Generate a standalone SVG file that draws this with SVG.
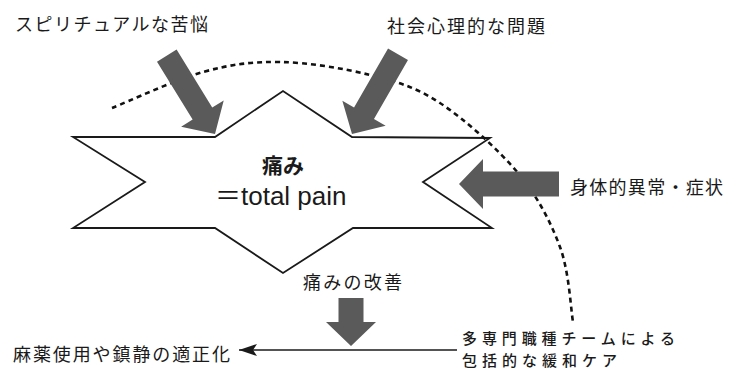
<svg xmlns="http://www.w3.org/2000/svg" width="729" height="371" viewBox="0 0 729 371">
<style>
.lbl{font-family:"Noto Sans CJK JP","Noto Sans CJK SC",sans-serif;font-size:18px;fill:#1a1a1a;}
.sm{font-size:15px;font-weight:500;}
.star{fill:#fff;stroke:#1a1a1a;stroke-width:1.8;stroke-linejoin:miter;}
.arc{fill:none;stroke:#111;stroke-width:2.6;stroke-dasharray:5 4;}
.blk{fill:#5a5a5a;}
.line{stroke:#1a1a1a;stroke-width:1.6;fill:none;}
</style>
<defs>
<marker id="ah" viewBox="0 0 18 12" refX="18" refY="6" markerWidth="18" markerHeight="12" markerUnits="userSpaceOnUse" orient="auto">
<path d="M18,6 L0,0 L4,6 L0,12 Z" fill="#1a1a1a"/>
</marker>
</defs>
<rect width="729" height="371" fill="#fff"/>
<g id="pain">
<polygon class="star" points="73,137 215,137 283,91 352,137 490,138 423,182 492,228 353,228 283,273 215,228 73,228 145,182"/>
<text class="lbl" x="283" y="173" text-anchor="middle" style="font-size:21px;font-weight:bold">痛み</text>
<text x="215" y="205" style="font-family:'Liberation Sans','Noto Sans CJK JP',sans-serif;font-size:26px;fill:#1a1a1a">＝total pain</text>
</g>
<g id="connectors">
<path class="arc" d="M112,108 C127.2,102 175,79.7 203,72 C231,64.3 252.2,61.5 280,62 C307.8,62.5 343.3,68.2 370,75 C396.7,81.8 415.3,86.7 440,103 C464.7,119.3 498,149 518,173 C538,197 550.8,222.2 560,247 C569.2,271.8 570.8,309.5 573,322"/>
<g class="blk">
<polygon transform="translate(215,134) rotate(58.4)" points="0,0 -24,-25 -24,-11.5 -92,-11.5 -92,11.5 -24,11.5 -24,25"/>
<polygon transform="translate(352,134) rotate(120)" points="0,0 -24,-25 -24,-11.5 -92,-11.5 -92,11.5 -24,11.5 -24,25"/>
<polygon transform="translate(459,184) rotate(180)" points="0,0 -24,-25 -24,-12.5 -100,-12.5 -100,12.5 -24,12.5 -24,25"/>
<polygon transform="translate(351,346) rotate(90)" points="0,0 -24,-25 -24,-12.5 -48,-12.5 -48,12.5 -24,12.5 -24,25"/>
</g>
<line class="line" x1="457" y1="350" x2="239" y2="350" marker-end="url(#ah)"/>
</g>
<g id="spiritual"><text class="lbl" x="15" y="31" textLength="193" lengthAdjust="spacing">スピリチュアルな苦悩</text></g>
<g id="social"><text class="lbl" x="387" y="33" textLength="158" lengthAdjust="spacing">社会心理的な問題</text></g>
<g id="physical"><text class="lbl" x="570" y="194" textLength="153" lengthAdjust="spacing">身体的異常・症状</text></g>
<g id="improve"><text class="lbl" x="303" y="289" textLength="99" lengthAdjust="spacing">痛みの改善</text></g>
<g id="sedation"><text class="lbl" x="13" y="361" textLength="217" lengthAdjust="spacing">麻薬使用や鎮静の適正化</text></g>
<g id="team">
<text class="lbl sm" x="462" y="344" textLength="213" lengthAdjust="spacing">多専門職種チームによる</text>
<text class="lbl sm" x="462" y="366" textLength="155" lengthAdjust="spacing">包括的な緩和ケア</text>
</g>
</svg>
